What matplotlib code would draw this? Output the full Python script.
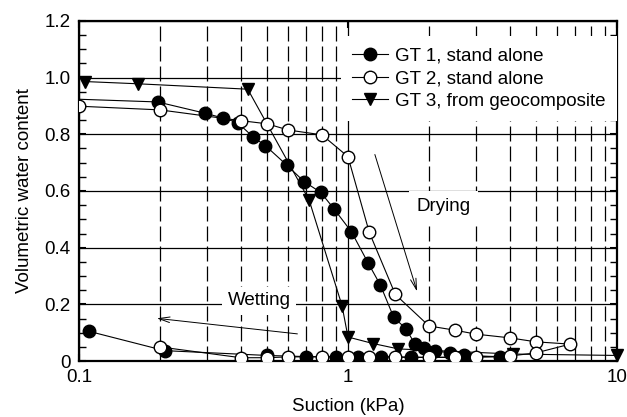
import matplotlib
matplotlib.use("Agg")
import matplotlib.pyplot as plt
from matplotlib.ticker import LogLocator, MultipleLocator, NullFormatter

plt.rcParams['font.family'] = ['Liberation Sans', 'DejaVu Sans']

# GT 1, stand alone (drying then wetting)
gt1_x = [0.09, 0.196, 0.295, 0.344, 0.389, 0.442, 0.493, 0.591, 0.687, 0.792, 0.887,
         1.03, 1.19, 1.32, 1.48, 1.64, 1.77, 1.91, 2.11, 2.40, 2.70, 3.67,
         1.72, 1.33, 1.09, 0.90, 0.70, 0.50, 0.208, 0.109]
gt1_y = [0.925, 0.914, 0.874, 0.857, 0.841, 0.792, 0.760, 0.692, 0.633, 0.595, 0.537,
         0.456, 0.345, 0.268, 0.154, 0.115, 0.062, 0.048, 0.036, 0.029, 0.021, 0.015,
         0.013, 0.015, 0.015, 0.015, 0.016, 0.020, 0.037, 0.105]

# GT 2, stand alone
gt2_x = [0.1, 0.2, 0.4, 0.5, 0.6, 0.8, 1.0, 1.2, 1.5, 2.0, 2.5, 3.0, 4.0, 5.0, 6.7,
         5.0, 4.0, 3.0, 2.5, 2.0, 1.5, 1.2, 1.0, 0.8, 0.6, 0.5, 0.4, 0.2]
gt2_y = [0.899, 0.886, 0.848, 0.837, 0.815, 0.798, 0.721, 0.454, 0.235, 0.124, 0.109,
         0.095, 0.082, 0.068, 0.060, 0.029, 0.018, 0.015, 0.013, 0.013, 0.015, 0.015,
         0.015, 0.015, 0.015, 0.012, 0.012, 0.050]

# GT 3, from geocomposite
gt3_x = [0.105, 0.166, 0.424, 0.717, 0.95, 1.0, 1.24, 1.54, 4.1, 10.0]
gt3_y = [0.986, 0.978, 0.959, 0.568, 0.196, 0.085, 0.062, 0.043, 0.025, 0.020]

labels = ['GT 1, stand alone', 'GT 2, stand alone', 'GT 3, from geocomposite']
yticks = [0, 0.2, 0.4, 0.6, 0.8, 1.0, 1.2]
ytick_labels = ['0', '0.2', '0.4', '0.6', '0.8', '1.0', '1.2']

fs = 13.5

fig = plt.figure(figsize=(6.27, 4.17), dpi=100)
ax = fig.add_axes([0.126, 0.134, 0.858, 0.816])

ax.plot(gt1_x, gt1_y, 'k-', lw=0.8, marker='o', ms=9, mfc='k', mec='k',
        label=labels[0], zorder=4)
ax.plot(gt2_x, gt2_y, 'k-', lw=0.8, marker='o', ms=9, mfc='white', mec='k', mew=1,
        label=labels[1], zorder=5)
ax.plot(gt3_x, gt3_y, 'k-', lw=0.8, marker='v', ms=9, mfc='k', mec='k',
        label=labels[2], zorder=4, clip_on=False)

ax.set_xscale('log')
ax.set_xlim(0.1, 10)
ax.set_ylim(0, 1.2)
ax.set_xticks([0.1, 1, 10], labels=['0.1', '1', '10'])
ax.xaxis.set_minor_locator(LogLocator(base=10, subs=range(2, 10)))
ax.xaxis.set_minor_formatter(NullFormatter())
ax.set_yticks(yticks, labels=ytick_labels)
ax.yaxis.set_minor_locator(MultipleLocator(0.05))

ax.grid(which='major', color='k', lw=0.9, ls='-', zorder=1)
ax.xaxis.grid(which='minor', color='k', lw=0.9, ls=(0, (12, 4)), zorder=1)
ax.set_axisbelow(True)

ax.tick_params(which='both', direction='in', top=True, right=True, labelsize=fs, pad=6)
ax.tick_params(which='major', length=5, width=1.5)
ax.tick_params(which='minor', length=5, width=1)
ax.tick_params(axis='x', which='minor', length=0)
for s in ax.spines.values():
    s.set_linewidth(1.6)

ax.set_xlabel('Suction (kPa)', fontsize=fs, labelpad=8)
ax.set_ylabel('Volumetric water content', fontsize=fs, labelpad=8)

ax.text(2.27, 0.544, 'Drying', fontsize=fs, ha='center', va='center', zorder=3,
        bbox=dict(boxstyle='square,pad=0.4', fc='white', ec='none'))
ax.text(0.468, 0.213, 'Wetting', fontsize=fs, ha='center', va='center', zorder=3,
        bbox=dict(boxstyle='square,pad=0.3', fc='white', ec='none'))

ax.annotate('', xy=(1.82, 0.236), xytext=(1.25, 0.738), zorder=3,
            arrowprops=dict(arrowstyle='->,head_length=0.8,head_width=0.2', lw=0.7, color='k'))
ax.annotate('', xy=(0.19, 0.152), xytext=(0.664, 0.095), zorder=3,
            arrowprops=dict(arrowstyle='->,head_length=0.8,head_width=0.2', lw=0.7, color='k'))

leg = ax.legend(loc='upper left', bbox_to_anchor=(0.487, 0.955), borderaxespad=0,
                fontsize=fs, frameon=True, framealpha=1, fancybox=False,
                numpoints=1, handlelength=1.9, handletextpad=0.4,
                labelspacing=0.3, borderpad=0.6)
leg.get_frame().set_facecolor('white')
leg.get_frame().set_edgecolor('none')

fig.savefig('out.png', dpi=100)
